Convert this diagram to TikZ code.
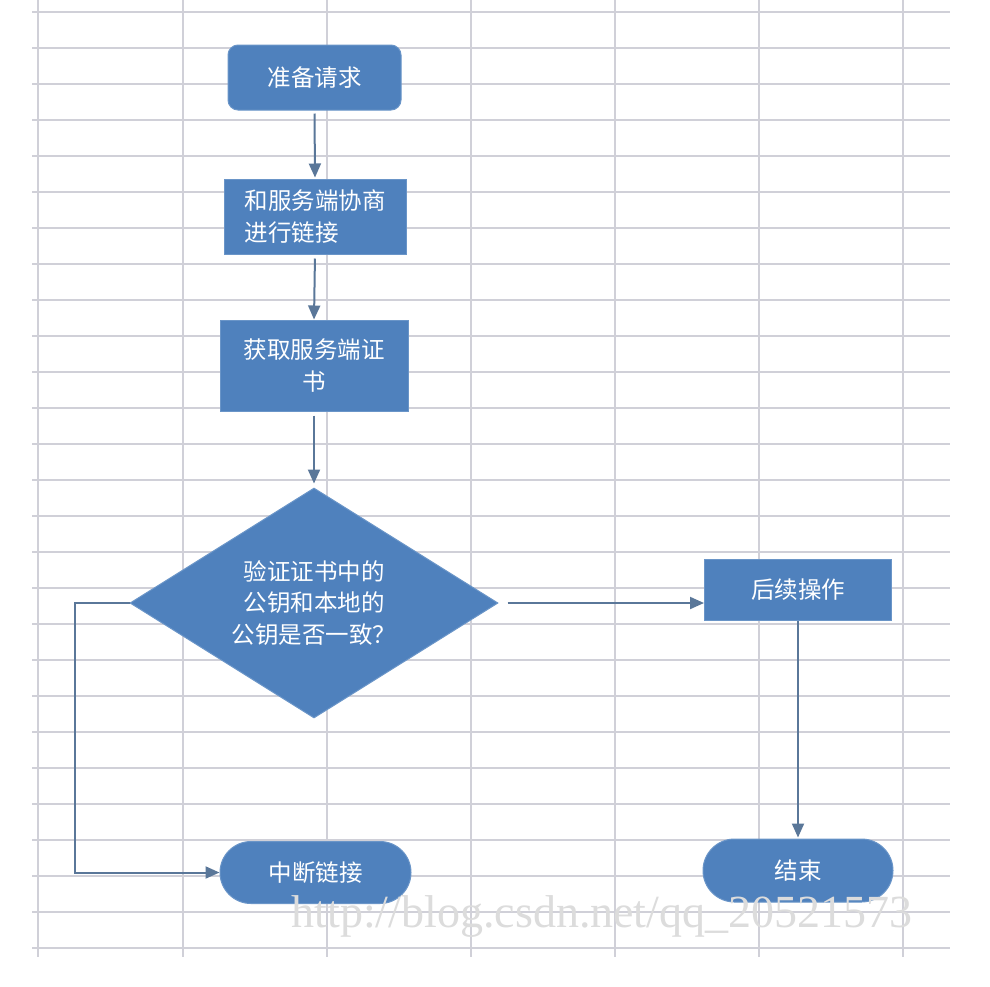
\documentclass[tikz,border=0pt]{standalone}
\usepackage{fontspec}
\newfontfamily\cjk{Noto Sans CJK SC}
\newfontfamily\wmfont{Liberation Serif}
\usetikzlibrary{shapes.geometric,shapes.misc,arrows.meta}
\definecolor{boxblue}{HTML}{4F81BD}
\definecolor{boxedge}{HTML}{6A95C8}
\definecolor{arrowc}{HTML}{5A7799}
\definecolor{gridc}{HTML}{D0D0D8}
\definecolor{wmc}{HTML}{DCDCDC}
\tikzset{
  blk/.style={fill=boxblue, draw=boxedge, line width=1pt, text=white, inner sep=0pt,
    font=\cjk\fontsize{23.5}{31.5}\selectfont},
  rbox/.style={blk, rectangle, rounded corners=10pt},
  sbox/.style={blk, rectangle},
  term/.style={blk, rounded rectangle},
  dec/.style={blk, diamond, aspect=1.6},
  flow/.style={draw=arrowc, line width=2pt, -{Triangle[length=14pt,width=12pt]}},
  gridline/.style={draw=gridc, line width=1.6pt}
}
\begin{document}
\begin{tikzpicture}[x=1pt,y=-1pt]
\useasboundingbox (0,0) rectangle (990,986);
\fill[white] (0,0) rectangle (990,986);
% grid
\foreach \yy in {12,48,...,948} \draw[gridline] (32,\yy) -- (950,\yy);
\foreach \xx in {38,183,327,471,615,759,903} \draw[gridline] (\xx,0) -- (\xx,957);
% nodes
\node[rbox, minimum width=173pt, minimum height=65pt] (n1) at (314.5,77.5) {准备请求};
\node[sbox, minimum width=182pt, minimum height=75pt, align=left] (n2) at (315,216.5) {和服务端协商\\进行链接};
\node[sbox, minimum width=188pt, minimum height=91pt, align=center] (n3) at (314,365.5) {获取服务端证\\书};
\node[dec, minimum width=368pt, minimum height=230pt, align=center] (d) at (314,603) {验证证书中的\\公钥和本地的\\公钥是否一致？};
\node[sbox, minimum width=187pt, minimum height=61pt] (n5) at (798,589.5) {后续操作};
\node[term, minimum width=191pt, minimum height=62pt] (n6) at (315.5,872.5) {中断链接};
\node[term, minimum width=190pt, minimum height=63pt] (n7) at (798,870.5) {结束};
% watermark
\node[text=wmc, inner sep=0pt] (wm) at (602,916) {\wmfont\fontsize{46}{46}\selectfont http://blog.csdn.net/qq\_20521573};
% connectors
\coordinate (lc) at (75,603);
\draw[flow, shorten <=3pt, shorten >=1pt] (n1.south) -- (n2.north);
\draw[flow, shorten <=4pt] (n2.south) -- (n3.north);
\draw[flow, shorten <=4pt, shorten >=4pt] (n3.south) -- (d.north);
\draw[flow, shorten <=9pt] (d.east) -- (d.east -| n5.west);
\draw[flow] (d.west) -- (lc) |- (n6.west);
\draw[flow, shorten >=1pt] (n5.south) -- (n7.north);
\end{tikzpicture}
\end{document}
